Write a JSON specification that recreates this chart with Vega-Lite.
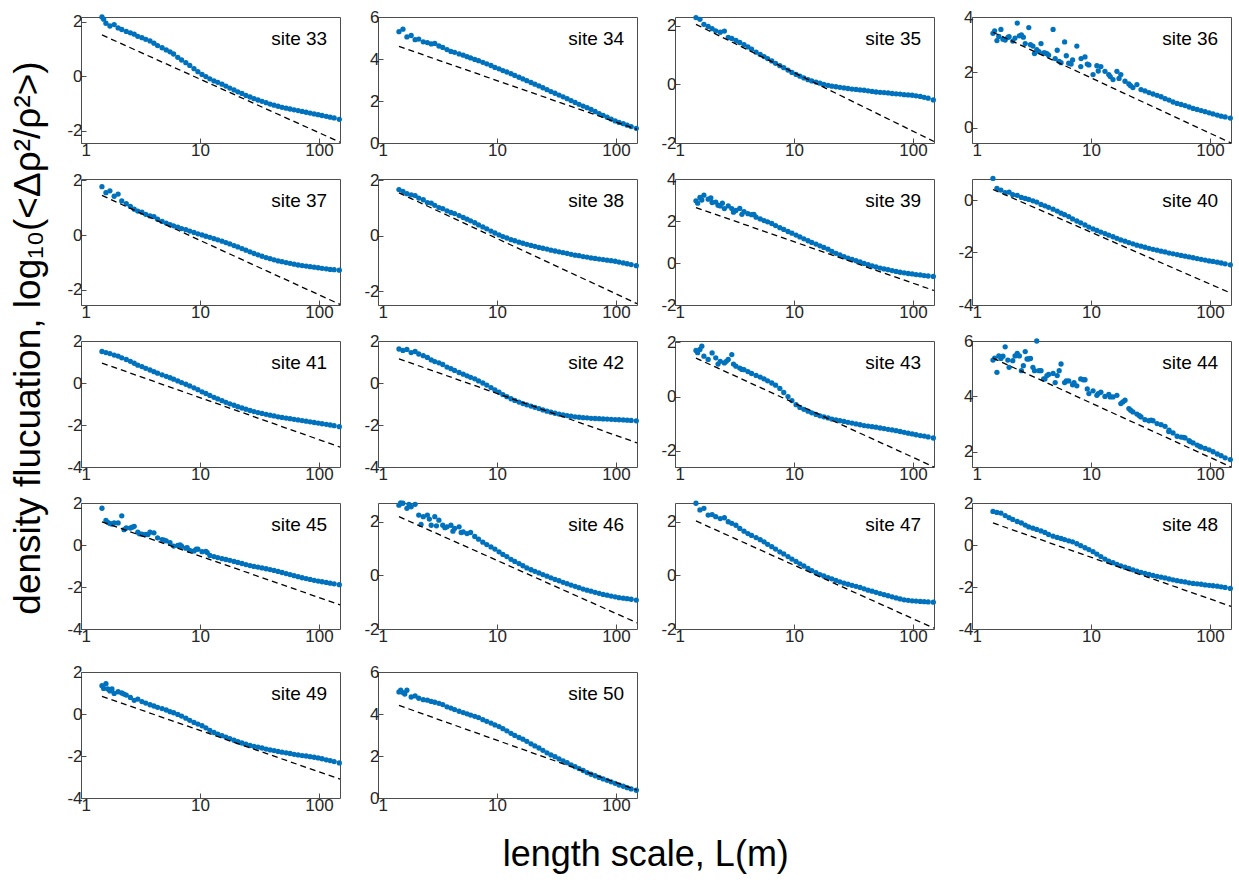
{
"$schema":"https://vega.github.io/schema/vega-lite/v6.json",
"background":"white",
"padding":{"left":9,"top":7,"right":5,"bottom":3},
"datasets":{
"p":[
{"L":1.5,"s33":2.18,"s34":5.3,"s35":2.28,"s36":3.41,"s37":1.77,"s38":1.67,"s39":2.96,"s40":0.82,"s41":1.5,"s42":1.62,"s43":1.7,"s44":5.31,"s45":1.75,"s46":2.62,"s47":2.69,"s48":1.6,"s49":1.35,"s50":5.05},
{"L":1.62,"s33":1.95,"s34":5.42,"s35":2.22,"s36":3.15,"s37":1.55,"s38":1.6,"s39":3.12,"s40":0.44,"s41":1.45,"s42":1.55,"s43":1.74,"s44":4.87,"s45":1.17,"s46":2.69,"s47":2.44,"s48":1.55,"s49":1.44,"s50":5.02},
{"L":1.75,"s33":1.85,"s34":5.05,"s35":2.05,"s36":3.55,"s37":1.62,"s38":1.52,"s39":3.23,"s40":0.38,"s41":1.4,"s42":1.6,"s43":1.49,"s44":5.37,"s45":1.02,"s46":2.5,"s47":2.5,"s48":1.52,"s49":1.1,"s50":5.13},
{"L":1.9,"s33":1.9,"s34":5.12,"s35":1.98,"s36":3.17,"s37":1.42,"s38":1.48,"s39":3.04,"s40":0.28,"s41":1.33,"s42":1.45,"s43":1.37,"s44":5.79,"s45":1.05,"s46":2.56,"s47":2.25,"s48":1.4,"s49":0.98,"s50":4.81},
{"L":2.05,"s33":1.78,"s34":4.92,"s35":1.9,"s36":3.29,"s37":1.5,"s38":1.45,"s39":2.88,"s40":0.3,"s41":1.28,"s42":1.5,"s43":1.61,"s44":5.05,"s45":1.05,"s46":2.65,"s47":2.27,"s48":1.3,"s49":1.06,"s50":4.86},
{"L":2.2,"s33":1.72,"s34":4.95,"s35":1.83,"s36":3.13,"s37":1.25,"s38":1.36,"s39":2.9,"s40":0.2,"s41":1.2,"s42":1.38,"s43":1.43,"s44":5.29,"s45":1.39,"s46":2.25,"s47":2.19,"s48":1.22,"s49":1.0,"s50":4.75},
{"L":2.4,"s33":1.65,"s34":4.82,"s35":1.78,"s36":3.78,"s37":1.15,"s38":1.3,"s39":2.72,"s40":0.18,"s41":1.12,"s42":1.3,"s43":1.3,"s44":5.55,"s45":0.81,"s46":2.19,"s47":2.12,"s48":1.12,"s49":0.9,"s50":4.68},
{"L":2.6,"s33":1.6,"s34":4.78,"s35":1.82,"s36":3.35,"s37":1.05,"s38":1.2,"s39":2.59,"s40":0.1,"s41":1.03,"s42":1.22,"s43":1.24,"s44":4.93,"s45":0.81,"s46":2.25,"s47":2.15,"s48":1.05,"s49":0.79,"s50":4.66},
{"L":2.8,"s33":1.55,"s34":4.72,"s35":1.6,"s36":3.04,"s37":0.95,"s38":1.18,"s39":2.72,"s40":0.06,"s41":0.94,"s42":1.1,"s43":1.37,"s44":5.62,"s45":0.89,"s46":1.87,"s47":2.0,"s48":0.95,"s49":0.65,"s50":4.6},
{"L":3.0,"s33":1.47,"s34":4.74,"s35":1.57,"s36":3.62,"s37":0.88,"s38":1.1,"s39":2.59,"s40":0.02,"s41":0.85,"s42":1.02,"s43":1.55,"s44":5.35,"s45":0.61,"s46":2.19,"s47":1.94,"s48":0.86,"s49":0.71,"s50":4.56},
{"L":3.25,"s33":1.42,"s34":4.62,"s35":1.5,"s36":2.95,"s37":0.84,"s38":1.02,"s39":2.5,"s40":-0.03,"s41":0.78,"s42":0.96,"s43":1.12,"s44":5.05,"s45":0.52,"s46":2.06,"s47":1.87,"s48":0.8,"s49":0.59,"s50":4.51},
{"L":3.5,"s33":1.36,"s34":4.55,"s35":1.43,"s36":2.82,"s37":0.76,"s38":0.98,"s39":2.6,"s40":-0.08,"s41":0.7,"s42":0.88,"s43":1.05,"s44":6.0,"s45":0.5,"s46":1.87,"s47":1.75,"s48":0.74,"s49":0.52,"s50":4.45},
{"L":3.8,"s33":1.3,"s34":4.45,"s35":1.36,"s36":3.04,"s37":0.7,"s38":0.9,"s39":2.45,"s40":-0.17,"s41":0.62,"s42":0.76,"s43":0.99,"s44":4.93,"s45":0.61,"s46":1.81,"s47":1.65,"s48":0.67,"s49":0.44,"s50":4.34},
{"L":4.1,"s33":1.22,"s34":4.36,"s35":1.28,"s36":2.7,"s37":0.68,"s38":0.84,"s39":2.35,"s40":-0.22,"s41":0.54,"s42":0.68,"s43":0.92,"s44":4.63,"s45":0.58,"s46":1.87,"s47":1.56,"s48":0.6,"s49":0.38,"s50":4.28},
{"L":4.4,"s33":1.13,"s34":4.32,"s35":1.2,"s36":2.62,"s37":0.58,"s38":0.8,"s39":2.3,"s40":-0.28,"s41":0.47,"s42":0.6,"s43":0.85,"s44":4.79,"s45":0.34,"s46":1.75,"s47":1.49,"s48":0.5,"s49":0.32,"s50":4.21},
{"L":4.8,"s33":1.05,"s34":4.24,"s35":1.1,"s36":3.55,"s37":0.5,"s38":0.73,"s39":2.18,"s40":-0.35,"s41":0.39,"s42":0.5,"s43":0.78,"s44":4.83,"s45":0.26,"s46":1.81,"s47":1.41,"s48":0.42,"s49":0.26,"s50":4.13},
{"L":5.2,"s33":0.97,"s34":4.18,"s35":1.02,"s36":2.8,"s37":0.44,"s38":0.66,"s39":2.1,"s40":-0.42,"s41":0.32,"s42":0.42,"s43":0.72,"s44":4.75,"s45":0.2,"s46":1.62,"s47":1.33,"s48":0.36,"s49":0.19,"s50":4.07},
{"L":5.6,"s33":0.9,"s34":4.11,"s35":0.95,"s36":2.35,"s37":0.38,"s38":0.6,"s39":2.02,"s40":-0.5,"s41":0.25,"s42":0.34,"s43":0.65,"s44":5.17,"s45":0.11,"s46":1.56,"s47":1.25,"s48":0.31,"s49":0.11,"s50":4.01},
{"L":6.0,"s33":0.82,"s34":4.05,"s35":0.88,"s36":3.1,"s37":0.34,"s38":0.54,"s39":1.96,"s40":-0.56,"s41":0.18,"s42":0.27,"s43":0.58,"s44":4.5,"s45":-0.05,"s46":1.6,"s47":1.16,"s48":0.26,"s49":0.06,"s50":3.95},
{"L":6.5,"s33":0.7,"s34":3.98,"s35":0.8,"s36":2.33,"s37":0.29,"s38":0.47,"s39":1.88,"s40":-0.63,"s41":0.1,"s42":0.2,"s43":0.5,"s44":4.56,"s45":-0.02,"s46":1.45,"s47":1.07,"s48":0.2,"s49":-0.02,"s50":3.89},
{"L":7.0,"s33":0.6,"s34":3.92,"s35":0.72,"s36":2.45,"s37":0.24,"s38":0.39,"s39":1.78,"s40":-0.72,"s41":0.02,"s42":0.1,"s43":0.42,"s44":4.42,"s45":-0.06,"s46":1.35,"s47":0.98,"s48":0.15,"s49":-0.1,"s50":3.83},
{"L":7.6,"s33":0.5,"s34":3.84,"s35":0.64,"s36":2.95,"s37":0.2,"s38":0.32,"s39":1.68,"s40":-0.8,"s41":-0.06,"s42":0.0,"s43":0.3,"s44":4.38,"s45":-0.15,"s46":1.24,"s47":0.88,"s48":0.06,"s49":-0.2,"s50":3.73},
{"L":8.2,"s33":0.4,"s34":3.77,"s35":0.57,"s36":2.21,"s37":0.15,"s38":0.25,"s39":1.6,"s40":-0.87,"s41":-0.14,"s42":-0.1,"s43":0.15,"s44":4.63,"s45":-0.26,"s46":1.15,"s47":0.8,"s48":-0.03,"s49":-0.3,"s50":3.65},
{"L":8.9,"s33":0.28,"s34":3.69,"s35":0.49,"s36":2.56,"s37":0.1,"s38":0.17,"s39":1.5,"s40":-0.95,"s41":-0.23,"s42":-0.22,"s43":0.0,"s44":4.6,"s45":-0.28,"s46":1.06,"s47":0.7,"s48":-0.13,"s49":-0.4,"s50":3.57},
{"L":9.6,"s33":0.17,"s34":3.6,"s35":0.41,"s36":2.27,"s37":0.05,"s38":0.1,"s39":1.42,"s40":-1.03,"s41":-0.32,"s42":-0.33,"s43":-0.15,"s44":4.1,"s45":-0.2,"s46":0.98,"s47":0.61,"s48":-0.22,"s49":-0.48,"s50":3.48},
{"L":10.4,"s33":0.07,"s34":3.53,"s35":0.34,"s36":1.92,"s37":0.01,"s38":0.03,"s39":1.33,"s40":-1.1,"s41":-0.42,"s42":-0.44,"s43":-0.3,"s44":4.2,"s45":-0.32,"s46":0.88,"s47":0.52,"s48":-0.32,"s49":-0.56,"s50":3.4},
{"L":11.2,"s33":-0.01,"s34":3.45,"s35":0.28,"s36":2.24,"s37":-0.04,"s38":-0.03,"s39":1.24,"s40":-1.16,"s41":-0.5,"s42":-0.55,"s43":-0.4,"s44":4.04,"s45":-0.3,"s46":0.78,"s47":0.43,"s48":-0.43,"s49":-0.66,"s50":3.3},
{"L":12.1,"s33":-0.09,"s34":3.38,"s35":0.22,"s36":2.21,"s37":-0.08,"s38":-0.08,"s39":1.15,"s40":-1.22,"s41":-0.59,"s42":-0.65,"s43":-0.47,"s44":4.15,"s45":-0.5,"s46":0.7,"s47":0.35,"s48":-0.55,"s49":-0.78,"s50":3.2},
{"L":13.1,"s33":-0.17,"s34":3.3,"s35":0.16,"s36":2.04,"s37":-0.13,"s38":-0.14,"s39":1.06,"s40":-1.28,"s41":-0.68,"s42":-0.75,"s43":-0.54,"s44":4.0,"s45":-0.55,"s46":0.6,"s47":0.26,"s48":-0.67,"s49":-0.88,"s50":3.08},
{"L":14.1,"s33":-0.22,"s34":3.22,"s35":0.12,"s36":1.92,"s37":-0.17,"s38":-0.18,"s39":0.98,"s40":-1.34,"s41":-0.76,"s42":-0.83,"s43":-0.6,"s44":4.07,"s45":-0.6,"s46":0.52,"s47":0.18,"s48":-0.77,"s49":-0.96,"s50":2.98},
{"L":15.3,"s33":-0.29,"s34":3.13,"s35":0.08,"s36":1.74,"s37":-0.22,"s38":-0.23,"s39":0.9,"s40":-1.4,"s41":-0.84,"s42":-0.91,"s43":-0.66,"s44":3.98,"s45":-0.65,"s46":0.44,"s47":0.1,"s48":-0.84,"s49":-1.03,"s50":2.88},
{"L":16.5,"s33":-0.36,"s34":3.05,"s35":0.04,"s36":2.04,"s37":-0.27,"s38":-0.27,"s39":0.82,"s40":-1.46,"s41":-0.92,"s42":-0.98,"s43":-0.71,"s44":4.04,"s45":-0.69,"s46":0.36,"s47":0.03,"s48":-0.92,"s49":-1.1,"s50":2.8},
{"L":17.8,"s33":-0.43,"s34":2.97,"s35":0.0,"s36":1.92,"s37":-0.32,"s38":-0.31,"s39":0.74,"s40":-1.52,"s41":-0.99,"s42":-1.04,"s43":-0.75,"s44":3.74,"s45":-0.73,"s46":0.28,"s47":-0.02,"s48":-0.99,"s49":-1.17,"s50":2.7},
{"L":19.3,"s33":-0.5,"s34":2.88,"s35":-0.03,"s36":1.68,"s37":-0.38,"s38":-0.35,"s39":0.66,"s40":-1.57,"s41":-1.06,"s42":-1.1,"s43":-0.79,"s44":3.86,"s45":-0.78,"s46":0.21,"s47":-0.08,"s48":-1.06,"s49":-1.25,"s50":2.58},
{"L":20.8,"s33":-0.57,"s34":2.8,"s35":-0.06,"s36":1.58,"s37":-0.43,"s38":-0.38,"s39":0.55,"s40":-1.62,"s41":-1.13,"s42":-1.16,"s43":-0.83,"s44":3.56,"s45":-0.83,"s46":0.15,"s47":-0.13,"s48":-1.12,"s49":-1.32,"s50":2.48},
{"L":22.5,"s33":-0.63,"s34":2.72,"s35":-0.08,"s36":1.45,"s37":-0.49,"s38":-0.42,"s39":0.46,"s40":-1.67,"s41":-1.19,"s42":-1.22,"s43":-0.86,"s44":3.44,"s45":-0.88,"s46":0.09,"s47":-0.19,"s48":-1.18,"s49":-1.38,"s50":2.38},
{"L":24.3,"s33":-0.7,"s34":2.63,"s35":-0.1,"s36":1.56,"s37":-0.55,"s38":-0.45,"s39":0.38,"s40":-1.72,"s41":-1.25,"s42":-1.28,"s43":-0.89,"s44":3.36,"s45":-0.93,"s46":0.03,"s47":-0.24,"s48":-1.24,"s49":-1.44,"s50":2.27},
{"L":26.3,"s33":-0.76,"s34":2.54,"s35":-0.12,"s36":1.38,"s37":-0.61,"s38":-0.48,"s39":0.3,"s40":-1.76,"s41":-1.31,"s42":-1.34,"s43":-0.92,"s44":3.26,"s45":-0.98,"s46":-0.03,"s47":-0.29,"s48":-1.3,"s49":-1.5,"s50":2.15},
{"L":28.4,"s33":-0.82,"s34":2.45,"s35":-0.14,"s36":1.33,"s37":-0.67,"s38":-0.52,"s39":0.23,"s40":-1.8,"s41":-1.36,"s42":-1.39,"s43":-0.95,"s44":3.16,"s45":-1.02,"s46":-0.09,"s47":-0.33,"s48":-1.35,"s49":-1.54,"s50":2.05},
{"L":30.7,"s33":-0.87,"s34":2.37,"s35":-0.16,"s36":1.27,"s37":-0.72,"s38":-0.55,"s39":0.17,"s40":-1.84,"s41":-1.41,"s42":-1.44,"s43":-0.98,"s44":3.12,"s45":-1.05,"s46":-0.15,"s47":-0.37,"s48":-1.4,"s49":-1.58,"s50":1.97},
{"L":33.2,"s33":-0.92,"s34":2.28,"s35":-0.17,"s36":1.22,"s37":-0.77,"s38":-0.58,"s39":0.11,"s40":-1.88,"s41":-1.45,"s42":-1.48,"s43":-1.01,"s44":3.12,"s45":-1.09,"s46":-0.2,"s47":-0.41,"s48":-1.45,"s49":-1.62,"s50":1.86},
{"L":35.9,"s33":-0.97,"s34":2.2,"s35":-0.19,"s36":1.17,"s37":-0.82,"s38":-0.61,"s39":0.05,"s40":-1.91,"s41":-1.49,"s42":-1.52,"s43":-1.04,"s44":3.02,"s45":-1.13,"s46":-0.26,"s47":-0.45,"s48":-1.49,"s49":-1.67,"s50":1.77},
{"L":38.8,"s33":-1.02,"s34":2.11,"s35":-0.2,"s36":1.12,"s37":-0.86,"s38":-0.64,"s39":-0.02,"s40":-1.95,"s41":-1.53,"s42":-1.55,"s43":-1.07,"s44":2.98,"s45":-1.17,"s46":-0.31,"s47":-0.5,"s48":-1.53,"s49":-1.71,"s50":1.68},
{"L":41.9,"s33":-1.06,"s34":2.02,"s35":-0.22,"s36":1.05,"s37":-0.9,"s38":-0.67,"s39":-0.08,"s40":-1.98,"s41":-1.57,"s42":-1.58,"s43":-1.09,"s44":2.92,"s45":-1.21,"s46":-0.36,"s47":-0.55,"s48":-1.57,"s49":-1.74,"s50":1.58},
{"L":45.3,"s33":-1.1,"s34":1.93,"s35":-0.24,"s36":1.0,"s37":-0.94,"s38":-0.7,"s39":-0.14,"s40":-2.02,"s41":-1.61,"s42":-1.61,"s43":-1.11,"s44":2.78,"s45":-1.26,"s46":-0.41,"s47":-0.59,"s48":-1.62,"s49":-1.78,"s50":1.49},
{"L":48.9,"s33":-1.14,"s34":1.84,"s35":-0.26,"s36":0.93,"s37":-0.97,"s38":-0.72,"s39":-0.19,"s40":-2.05,"s41":-1.64,"s42":-1.63,"s43":-1.13,"s44":2.68,"s45":-1.31,"s46":-0.46,"s47":-0.63,"s48":-1.66,"s49":-1.82,"s50":1.4},
{"L":52.9,"s33":-1.17,"s34":1.76,"s35":-0.27,"s36":0.88,"s37":-1.0,"s38":-0.75,"s39":-0.24,"s40":-2.08,"s41":-1.67,"s42":-1.65,"s43":-1.16,"s44":2.56,"s45":-1.36,"s46":-0.51,"s47":-0.68,"s48":-1.7,"s49":-1.85,"s50":1.31},
{"L":57.1,"s33":-1.2,"s34":1.68,"s35":-0.28,"s36":0.84,"s37":-1.03,"s38":-0.77,"s39":-0.28,"s40":-2.11,"s41":-1.7,"s42":-1.66,"s43":-1.18,"s44":2.53,"s45":-1.41,"s46":-0.55,"s47":-0.72,"s48":-1.73,"s49":-1.88,"s50":1.21},
{"L":61.7,"s33":-1.23,"s34":1.6,"s35":-0.29,"s36":0.8,"s37":-1.06,"s38":-0.8,"s39":-0.32,"s40":-2.14,"s41":-1.73,"s42":-1.68,"s43":-1.21,"s44":2.5,"s45":-1.46,"s46":-0.59,"s47":-0.76,"s48":-1.76,"s49":-1.92,"s50":1.13},
{"L":66.7,"s33":-1.26,"s34":1.5,"s35":-0.31,"s36":0.75,"s37":-1.09,"s38":-0.82,"s39":-0.36,"s40":-2.17,"s41":-1.76,"s42":-1.69,"s43":-1.23,"s44":2.4,"s45":-1.51,"s46":-0.63,"s47":-0.8,"s48":-1.8,"s49":-1.95,"s50":1.06},
{"L":72.1,"s33":-1.29,"s34":1.4,"s35":-0.32,"s36":0.7,"s37":-1.11,"s38":-0.84,"s39":-0.4,"s40":-2.2,"s41":-1.79,"s42":-1.7,"s43":-1.26,"s44":2.32,"s45":-1.56,"s46":-0.67,"s47":-0.84,"s48":-1.83,"s49":-1.98,"s50":0.98},
{"L":77.9,"s33":-1.32,"s34":1.32,"s35":-0.33,"s36":0.66,"s37":-1.13,"s38":-0.86,"s39":-0.44,"s40":-2.23,"s41":-1.82,"s42":-1.71,"s43":-1.29,"s44":2.24,"s45":-1.6,"s46":-0.71,"s47":-0.88,"s48":-1.85,"s49":-2.0,"s50":0.91},
{"L":84.2,"s33":-1.35,"s34":1.23,"s35":-0.35,"s36":0.62,"s37":-1.15,"s38":-0.88,"s39":-0.47,"s40":-2.26,"s41":-1.85,"s42":-1.72,"s43":-1.32,"s44":2.17,"s45":-1.64,"s46":-0.74,"s47":-0.91,"s48":-1.87,"s49":-2.03,"s50":0.84},
{"L":91,"s33":-1.38,"s34":1.14,"s35":-0.36,"s36":0.58,"s37":-1.17,"s38":-0.9,"s39":-0.5,"s40":-2.29,"s41":-1.88,"s42":-1.73,"s43":-1.35,"s44":2.12,"s45":-1.68,"s46":-0.77,"s47":-0.93,"s48":-1.9,"s49":-2.06,"s50":0.77},
{"L":98.3,"s33":-1.41,"s34":1.05,"s35":-0.37,"s36":0.54,"s37":-1.19,"s38":-0.92,"s39":-0.52,"s40":-2.32,"s41":-1.91,"s42":-1.74,"s43":-1.38,"s44":2.07,"s45":-1.72,"s46":-0.8,"s47":-0.95,"s48":-1.92,"s49":-2.09,"s50":0.7},
{"L":106,"s33":-1.44,"s34":0.98,"s35":-0.39,"s36":0.5,"s37":-1.21,"s38":-0.95,"s39":-0.55,"s40":-2.34,"s41":-1.94,"s42":-1.75,"s43":-1.41,"s44":2.0,"s45":-1.75,"s46":-0.83,"s47":-0.96,"s48":-1.94,"s49":-2.13,"s50":0.62},
{"L":115,"s33":-1.47,"s34":0.92,"s35":-0.41,"s36":0.46,"s37":-1.23,"s38":-0.98,"s39":-0.57,"s40":-2.37,"s41":-1.97,"s42":-1.76,"s43":-1.44,"s44":1.92,"s45":-1.78,"s46":-0.85,"s47":-0.97,"s48":-1.96,"s49":-2.18,"s50":0.56},
{"L":124,"s33":-1.5,"s34":0.85,"s35":-0.44,"s36":0.42,"s37":-1.25,"s38":-1.01,"s39":-0.6,"s40":-2.4,"s41":-2.0,"s42":-1.77,"s43":-1.46,"s44":1.86,"s45":-1.82,"s46":-0.87,"s47":-0.98,"s48":-1.99,"s49":-2.22,"s50":0.49},
{"L":134,"s33":-1.53,"s34":0.78,"s35":-0.47,"s36":0.39,"s37":-1.26,"s38":-1.04,"s39":-0.62,"s40":-2.43,"s41":-2.03,"s42":-1.78,"s43":-1.49,"s44":1.78,"s45":-1.85,"s46":-0.89,"s47":-0.99,"s48":-2.02,"s49":-2.27,"s50":0.43},
{"L":148,"s33":-1.58,"s34":0.7,"s35":-0.53,"s36":0.35,"s37":-1.28,"s38":-1.08,"s39":-0.64,"s40":-2.47,"s41":-2.08,"s42":-1.8,"s43":-1.53,"s44":1.72,"s45":-1.89,"s46":-0.92,"s47":-1.0,"s48":-2.07,"s49":-2.33,"s50":0.37},
{"L":1.55,"s33":2.1,"s36":3.5,"s39":2.85,"s43":1.62,"s44":5.38,"s46":2.7,"s49":1.22,"s50":5.13},
{"L":1.68,"s36":3.3,"s39":3.0,"s43":1.86,"s44":5.46,"s45":1.08,"s49":1.19,"s50":4.95},
{"L":1.82,"s36":3.2,"s44":5.45,"s46":2.65,"s49":1.19,"s45":1.0},
{"L":2.0,"s36":3.26,"s39":3.1,"s44":5.31},
{"L":2.3,"s36":3.24,"s39":2.75,"s43":1.2,"s44":5.46,"s45":0.73,"s46":1.9,"s49":0.95},
{"L":2.5,"s36":3.32,"s39":2.85,"s44":5.46},
{"L":2.7,"s36":3.27,"s43":1.3,"s44":5.11,"s45":0.85,"s46":2.1},
{"L":2.9,"s44":5.35},
{"L":3.1,"s36":3.0,"s39":2.42,"s43":1.2,"s44":5.37,"s45":0.53,"s46":1.85},
{"L":3.35,"s36":2.68,"s44":4.93},
{"L":3.65,"s36":2.75,"s39":2.32,"s43":1.0,"s44":4.93,"s45":0.5,"s46":1.78},
{"L":4.0,"s36":2.7,"s44":4.63},
{"L":4.26,"s36":2.68,"s44":4.75,"s46":1.65},
{"L":4.6,"s39":2.32},
{"L":5.0,"s36":2.5,"s44":4.5,"s45":0.23,"s46":1.6},
{"L":5.4,"s36":2.4,"s44":4.93},
{"L":6.2,"s36":2.6,"s44":4.56},
{"L":6.8,"s36":2.3,"s45":0.0},
{"L":7.2,"s44":4.5},
{"L":7.8,"s45":-0.13},
{"L":8.25,"s36":2.5},
{"L":8.6,"s44":4.6},
{"L":9.3,"s36":2.3,"s44":4.27,"s45":-0.2},
{"L":11.5,"s36":2.05,"s45":-0.36,"s44":4.1},
{"L":14.5,"s36":1.85,"s44":3.98},
{"L":17.2,"s36":1.78},
{"L":18.5,"s44":3.8},
{"L":21.5,"s36":1.52,"s44":3.5},
{"L":25.5,"s44":3.3},
{"L":32,"s44":3.14},
{"L":45,"s44":2.73},
{"L":60,"s44":2.52},
{"L":68,"s44":2.37},
{"L":82,"s44":2.19}
],
"d":[
{"L":1.5,"s33":1.52,"s34":4.6,"s35":2.05,"s36":3.45,"s37":1.45,"s38":1.55,"s39":2.64,"s40":0.4,"s41":0.95,"s42":1.15,"s43":1.42,"s44":5.38,"s45":1.1,"s46":2.19,"s47":2.03,"s48":1.05,"s49":0.84,"s50":4.41},
{"L":150,"s33":-2.42,"s34":0.65,"s35":-1.95,"s36":-0.55,"s37":-2.53,"s38":-2.45,"s39":-1.31,"s40":-3.55,"s41":-3.05,"s42":-2.85,"s43":-2.6,"s44":1.45,"s45":-2.85,"s46":-1.77,"s47":-1.97,"s48":-2.92,"s49":-3.1,"s50":0.38}
]
},
"title":{"text":"length scale, L(m)","orient":"bottom","anchor":"middle","fontSize":36,"font":"Liberation Sans","fontWeight":"normal","color":"black","offset":24,"dx":24},
"spacing":17,
"vconcat":[
{"title":{"text":"density flucuation, log₁₀(<Δρ²/ρ²>)","orient":"left","anchor":"middle","fontSize":37,"font":"Liberation Sans","fontWeight":"normal","color":"black","offset":11,"dx":-12},
"spacing":10,
"vconcat":[
{"spacing":11,"hconcat":[
{"width":259,"height":126,"layer":[
{"data":{"name":"p"},"mark":"circle","encoding":{"x":{"field":"L","type":"quantitative","title":null,"scale":{"type":"log","domain":[1,150],"nice":false},"axis":{"values":[1,10,100],"format":"d"}},"y":{"field":"s33","type":"quantitative","title":null,"scale":{"domain":[-2.45,2.18],"nice":false,"zero":false},"axis":{"values":[-2,0,2]}}}},
{"data":{"name":"d"},"mark":"line","encoding":{"x":{"field":"L","type":"quantitative","title":null},"y":{"field":"s33","type":"quantitative","title":null}}},
{"data":{"values":[{"t":"site 33"}]},"mark":{"type":"text","align":"right","baseline":"middle","fontSize":19,"fill":"black"},"encoding":{"x":{"datum":117,"type":"quantitative"},"y":{"datum":1.37,"type":"quantitative"},"text":{"field":"t","type":"nominal"}}}]},
{"width":259,"height":126,"layer":[
{"data":{"name":"p"},"mark":"circle","encoding":{"x":{"field":"L","type":"quantitative","title":null,"scale":{"type":"log","domain":[1,150],"nice":false},"axis":{"values":[1,10,100],"format":"d"}},"y":{"field":"s34","type":"quantitative","title":null,"scale":{"domain":[0,6],"nice":false,"zero":false},"axis":{"values":[0,2,4,6]}}}},
{"data":{"name":"d"},"mark":"line","encoding":{"x":{"field":"L","type":"quantitative","title":null},"y":{"field":"s34","type":"quantitative","title":null}}},
{"data":{"values":[{"t":"site 34"}]},"mark":{"type":"text","align":"right","baseline":"middle","fontSize":19,"fill":"black"},"encoding":{"x":{"datum":117,"type":"quantitative"},"y":{"datum":4.95,"type":"quantitative"},"text":{"field":"t","type":"nominal"}}}]},
{"width":259,"height":126,"layer":[
{"data":{"name":"p"},"mark":"circle","encoding":{"x":{"field":"L","type":"quantitative","title":null,"scale":{"type":"log","domain":[1,150],"nice":false},"axis":{"values":[1,10,100],"format":"d"}},"y":{"field":"s35","type":"quantitative","title":null,"scale":{"domain":[-2,2.3],"nice":false,"zero":false},"axis":{"values":[-2,0,2]}}}},
{"data":{"name":"d"},"mark":"line","encoding":{"x":{"field":"L","type":"quantitative","title":null},"y":{"field":"s35","type":"quantitative","title":null}}},
{"data":{"values":[{"t":"site 35"}]},"mark":{"type":"text","align":"right","baseline":"middle","fontSize":19,"fill":"black"},"encoding":{"x":{"datum":117,"type":"quantitative"},"y":{"datum":1.55,"type":"quantitative"},"text":{"field":"t","type":"nominal"}}}]},
{"width":259,"height":126,"layer":[
{"data":{"name":"p"},"mark":"circle","encoding":{"x":{"field":"L","type":"quantitative","title":null,"scale":{"type":"log","domain":[1,150],"nice":false},"axis":{"values":[1,10,100],"format":"d"}},"y":{"field":"s36","type":"quantitative","title":null,"scale":{"domain":[-0.55,4],"nice":false,"zero":false},"axis":{"values":[0,2,4]}}}},
{"data":{"name":"d"},"mark":"line","encoding":{"x":{"field":"L","type":"quantitative","title":null},"y":{"field":"s36","type":"quantitative","title":null}}},
{"data":{"values":[{"t":"site 36"}]},"mark":{"type":"text","align":"right","baseline":"middle","fontSize":19,"fill":"black"},"encoding":{"x":{"datum":117,"type":"quantitative"},"y":{"datum":3.2,"type":"quantitative"},"text":{"field":"t","type":"nominal"}}}]}
]},
{"spacing":11,"hconcat":[
{"width":259,"height":126,"layer":[
{"data":{"name":"p"},"mark":"circle","encoding":{"x":{"field":"L","type":"quantitative","title":null,"scale":{"type":"log","domain":[1,150],"nice":false},"axis":{"values":[1,10,100],"format":"d"}},"y":{"field":"s37","type":"quantitative","title":null,"scale":{"domain":[-2.55,2.05],"nice":false,"zero":false},"axis":{"values":[-2,0,2]}}}},
{"data":{"name":"d"},"mark":"line","encoding":{"x":{"field":"L","type":"quantitative","title":null},"y":{"field":"s37","type":"quantitative","title":null}}},
{"data":{"values":[{"t":"site 37"}]},"mark":{"type":"text","align":"right","baseline":"middle","fontSize":19,"fill":"black"},"encoding":{"x":{"datum":117,"type":"quantitative"},"y":{"datum":1.25,"type":"quantitative"},"text":{"field":"t","type":"nominal"}}}]},
{"width":259,"height":126,"layer":[
{"data":{"name":"p"},"mark":"circle","encoding":{"x":{"field":"L","type":"quantitative","title":null,"scale":{"type":"log","domain":[1,150],"nice":false},"axis":{"values":[1,10,100],"format":"d"}},"y":{"field":"s38","type":"quantitative","title":null,"scale":{"domain":[-2.5,2.05],"nice":false,"zero":false},"axis":{"values":[-2,0,2]}}}},
{"data":{"name":"d"},"mark":"line","encoding":{"x":{"field":"L","type":"quantitative","title":null},"y":{"field":"s38","type":"quantitative","title":null}}},
{"data":{"values":[{"t":"site 38"}]},"mark":{"type":"text","align":"right","baseline":"middle","fontSize":19,"fill":"black"},"encoding":{"x":{"datum":117,"type":"quantitative"},"y":{"datum":1.25,"type":"quantitative"},"text":{"field":"t","type":"nominal"}}}]},
{"width":259,"height":126,"layer":[
{"data":{"name":"p"},"mark":"circle","encoding":{"x":{"field":"L","type":"quantitative","title":null,"scale":{"type":"log","domain":[1,150],"nice":false},"axis":{"values":[1,10,100],"format":"d"}},"y":{"field":"s39","type":"quantitative","title":null,"scale":{"domain":[-2,4],"nice":false,"zero":false},"axis":{"values":[-2,0,2,4]}}}},
{"data":{"name":"d"},"mark":"line","encoding":{"x":{"field":"L","type":"quantitative","title":null},"y":{"field":"s39","type":"quantitative","title":null}}},
{"data":{"values":[{"t":"site 39"}]},"mark":{"type":"text","align":"right","baseline":"middle","fontSize":19,"fill":"black"},"encoding":{"x":{"datum":117,"type":"quantitative"},"y":{"datum":2.95,"type":"quantitative"},"text":{"field":"t","type":"nominal"}}}]},
{"width":259,"height":126,"layer":[
{"data":{"name":"p"},"mark":"circle","encoding":{"x":{"field":"L","type":"quantitative","title":null,"scale":{"type":"log","domain":[1,150],"nice":false},"axis":{"values":[1,10,100],"format":"d"}},"y":{"field":"s40","type":"quantitative","title":null,"scale":{"domain":[-4,0.8],"nice":false,"zero":false},"axis":{"values":[-4,-2,0]}}}},
{"data":{"name":"d"},"mark":"line","encoding":{"x":{"field":"L","type":"quantitative","title":null},"y":{"field":"s40","type":"quantitative","title":null}}},
{"data":{"values":[{"t":"site 40"}]},"mark":{"type":"text","align":"right","baseline":"middle","fontSize":19,"fill":"black"},"encoding":{"x":{"datum":117,"type":"quantitative"},"y":{"datum":-0.04,"type":"quantitative"},"text":{"field":"t","type":"nominal"}}}]}
]},
{"spacing":11,"hconcat":[
{"width":259,"height":126,"layer":[
{"data":{"name":"p"},"mark":"circle","encoding":{"x":{"field":"L","type":"quantitative","title":null,"scale":{"type":"log","domain":[1,150],"nice":false},"axis":{"values":[1,10,100],"format":"d"}},"y":{"field":"s41","type":"quantitative","title":null,"scale":{"domain":[-4,2],"nice":false,"zero":false},"axis":{"values":[-4,-2,0,2]}}}},
{"data":{"name":"d"},"mark":"line","encoding":{"x":{"field":"L","type":"quantitative","title":null},"y":{"field":"s41","type":"quantitative","title":null}}},
{"data":{"values":[{"t":"site 41"}]},"mark":{"type":"text","align":"right","baseline":"middle","fontSize":19,"fill":"black"},"encoding":{"x":{"datum":117,"type":"quantitative"},"y":{"datum":0.95,"type":"quantitative"},"text":{"field":"t","type":"nominal"}}}]},
{"width":259,"height":126,"layer":[
{"data":{"name":"p"},"mark":"circle","encoding":{"x":{"field":"L","type":"quantitative","title":null,"scale":{"type":"log","domain":[1,150],"nice":false},"axis":{"values":[1,10,100],"format":"d"}},"y":{"field":"s42","type":"quantitative","title":null,"scale":{"domain":[-4,2],"nice":false,"zero":false},"axis":{"values":[-4,-2,0,2]}}}},
{"data":{"name":"d"},"mark":"line","encoding":{"x":{"field":"L","type":"quantitative","title":null},"y":{"field":"s42","type":"quantitative","title":null}}},
{"data":{"values":[{"t":"site 42"}]},"mark":{"type":"text","align":"right","baseline":"middle","fontSize":19,"fill":"black"},"encoding":{"x":{"datum":117,"type":"quantitative"},"y":{"datum":0.95,"type":"quantitative"},"text":{"field":"t","type":"nominal"}}}]},
{"width":259,"height":126,"layer":[
{"data":{"name":"p"},"mark":"circle","encoding":{"x":{"field":"L","type":"quantitative","title":null,"scale":{"type":"log","domain":[1,150],"nice":false},"axis":{"values":[1,10,100],"format":"d"}},"y":{"field":"s43","type":"quantitative","title":null,"scale":{"domain":[-2.6,2.05],"nice":false,"zero":false},"axis":{"values":[-2,0,2]}}}},
{"data":{"name":"d"},"mark":"line","encoding":{"x":{"field":"L","type":"quantitative","title":null},"y":{"field":"s43","type":"quantitative","title":null}}},
{"data":{"values":[{"t":"site 43"}]},"mark":{"type":"text","align":"right","baseline":"middle","fontSize":19,"fill":"black"},"encoding":{"x":{"datum":117,"type":"quantitative"},"y":{"datum":1.24,"type":"quantitative"},"text":{"field":"t","type":"nominal"}}}]},
{"width":259,"height":126,"layer":[
{"data":{"name":"p"},"mark":"circle","encoding":{"x":{"field":"L","type":"quantitative","title":null,"scale":{"type":"log","domain":[1,150],"nice":false},"axis":{"values":[1,10,100],"format":"d"}},"y":{"field":"s44","type":"quantitative","title":null,"scale":{"domain":[1.45,6],"nice":false,"zero":false},"axis":{"values":[2,4,6]}}}},
{"data":{"name":"d"},"mark":"line","encoding":{"x":{"field":"L","type":"quantitative","title":null},"y":{"field":"s44","type":"quantitative","title":null}}},
{"data":{"values":[{"t":"site 44"}]},"mark":{"type":"text","align":"right","baseline":"middle","fontSize":19,"fill":"black"},"encoding":{"x":{"datum":117,"type":"quantitative"},"y":{"datum":5.2,"type":"quantitative"},"text":{"field":"t","type":"nominal"}}}]}
]},
{"spacing":11,"hconcat":[
{"width":259,"height":126,"layer":[
{"data":{"name":"p"},"mark":"circle","encoding":{"x":{"field":"L","type":"quantitative","title":null,"scale":{"type":"log","domain":[1,150],"nice":false},"axis":{"values":[1,10,100],"format":"d"}},"y":{"field":"s45","type":"quantitative","title":null,"scale":{"domain":[-4,2],"nice":false,"zero":false},"axis":{"values":[-4,-2,0,2]}}}},
{"data":{"name":"d"},"mark":"line","encoding":{"x":{"field":"L","type":"quantitative","title":null},"y":{"field":"s45","type":"quantitative","title":null}}},
{"data":{"values":[{"t":"site 45"}]},"mark":{"type":"text","align":"right","baseline":"middle","fontSize":19,"fill":"black"},"encoding":{"x":{"datum":117,"type":"quantitative"},"y":{"datum":0.95,"type":"quantitative"},"text":{"field":"t","type":"nominal"}}}]},
{"width":259,"height":126,"layer":[
{"data":{"name":"p"},"mark":"circle","encoding":{"x":{"field":"L","type":"quantitative","title":null,"scale":{"type":"log","domain":[1,150],"nice":false},"axis":{"values":[1,10,100],"format":"d"}},"y":{"field":"s46","type":"quantitative","title":null,"scale":{"domain":[-2,2.7],"nice":false,"zero":false},"axis":{"values":[-2,0,2]}}}},
{"data":{"name":"d"},"mark":"line","encoding":{"x":{"field":"L","type":"quantitative","title":null},"y":{"field":"s46","type":"quantitative","title":null}}},
{"data":{"values":[{"t":"site 46"}]},"mark":{"type":"text","align":"right","baseline":"middle","fontSize":19,"fill":"black"},"encoding":{"x":{"datum":117,"type":"quantitative"},"y":{"datum":1.88,"type":"quantitative"},"text":{"field":"t","type":"nominal"}}}]},
{"width":259,"height":126,"layer":[
{"data":{"name":"p"},"mark":"circle","encoding":{"x":{"field":"L","type":"quantitative","title":null,"scale":{"type":"log","domain":[1,150],"nice":false},"axis":{"values":[1,10,100],"format":"d"}},"y":{"field":"s47","type":"quantitative","title":null,"scale":{"domain":[-2,2.7],"nice":false,"zero":false},"axis":{"values":[-2,0,2]}}}},
{"data":{"name":"d"},"mark":"line","encoding":{"x":{"field":"L","type":"quantitative","title":null},"y":{"field":"s47","type":"quantitative","title":null}}},
{"data":{"values":[{"t":"site 47"}]},"mark":{"type":"text","align":"right","baseline":"middle","fontSize":19,"fill":"black"},"encoding":{"x":{"datum":117,"type":"quantitative"},"y":{"datum":1.88,"type":"quantitative"},"text":{"field":"t","type":"nominal"}}}]},
{"width":259,"height":126,"layer":[
{"data":{"name":"p"},"mark":"circle","encoding":{"x":{"field":"L","type":"quantitative","title":null,"scale":{"type":"log","domain":[1,150],"nice":false},"axis":{"values":[1,10,100],"format":"d"}},"y":{"field":"s48","type":"quantitative","title":null,"scale":{"domain":[-4,2],"nice":false,"zero":false},"axis":{"values":[-4,-2,0,2]}}}},
{"data":{"name":"d"},"mark":"line","encoding":{"x":{"field":"L","type":"quantitative","title":null},"y":{"field":"s48","type":"quantitative","title":null}}},
{"data":{"values":[{"t":"site 48"}]},"mark":{"type":"text","align":"right","baseline":"middle","fontSize":19,"fill":"black"},"encoding":{"x":{"datum":117,"type":"quantitative"},"y":{"datum":0.95,"type":"quantitative"},"text":{"field":"t","type":"nominal"}}}]}
]}
]},
{"title":{"text":" ","orient":"left","anchor":"middle","fontSize":37,"font":"Liberation Sans","fontWeight":"normal","color":"black","offset":11},
"spacing":11,"hconcat":[
{"width":259,"height":126,"layer":[
{"data":{"name":"p"},"mark":"circle","encoding":{"x":{"field":"L","type":"quantitative","title":null,"scale":{"type":"log","domain":[1,150],"nice":false},"axis":{"values":[1,10,100],"format":"d"}},"y":{"field":"s49","type":"quantitative","title":null,"scale":{"domain":[-4,2],"nice":false,"zero":false},"axis":{"values":[-4,-2,0,2]}}}},
{"data":{"name":"d"},"mark":"line","encoding":{"x":{"field":"L","type":"quantitative","title":null},"y":{"field":"s49","type":"quantitative","title":null}}},
{"data":{"values":[{"t":"site 49"}]},"mark":{"type":"text","align":"right","baseline":"middle","fontSize":19,"fill":"black"},"encoding":{"x":{"datum":117,"type":"quantitative"},"y":{"datum":0.95,"type":"quantitative"},"text":{"field":"t","type":"nominal"}}}]},
{"width":259,"height":126,"layer":[
{"data":{"name":"p"},"mark":"circle","encoding":{"x":{"field":"L","type":"quantitative","title":null,"scale":{"type":"log","domain":[1,150],"nice":false},"axis":{"values":[1,10,100],"format":"d"}},"y":{"field":"s50","type":"quantitative","title":null,"scale":{"domain":[0,6],"nice":false,"zero":false},"axis":{"values":[0,2,4,6]}}}},
{"data":{"name":"d"},"mark":"line","encoding":{"x":{"field":"L","type":"quantitative","title":null},"y":{"field":"s50","type":"quantitative","title":null}}},
{"data":{"values":[{"t":"site 50"}]},"mark":{"type":"text","align":"right","baseline":"middle","fontSize":19,"fill":"black"},"encoding":{"x":{"datum":117,"type":"quantitative"},"y":{"datum":4.95,"type":"quantitative"},"text":{"field":"t","type":"nominal"}}}]}
]}
],
"config":{
"font":"Liberation Sans",
"view":{"stroke":"#4d4d4d","strokeWidth":1},
"axis":{"grid":false,"domain":false,"tickColor":"#4d4d4d","tickSize":-5,"labelFontSize":17,"labelColor":"#262626","labelPadding":4,"labelFont":"Liberation Sans"},
"axisY":{"minExtent":22,"maxExtent":22},
"circle":{"size":28,"color":"#0072BD","opacity":1},
"line":{"color":"black","strokeDash":[6,4],"strokeWidth":1.3},
"locale":{"number":{"decimal":".","thousands":",","grouping":[3],"currency":["$",""],"minus":"-"}}
}
}
